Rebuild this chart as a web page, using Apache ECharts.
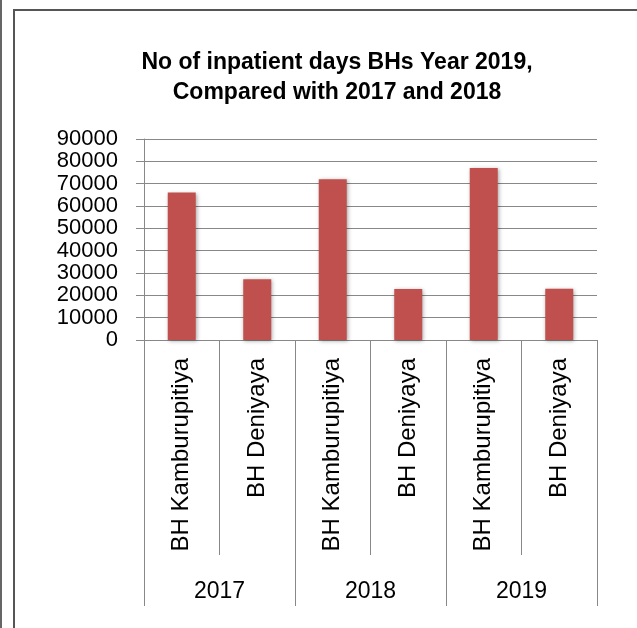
<!DOCTYPE html>
<html>
<head>
    <meta charset="UTF-8">
    <script src="https://cdn.jsdelivr.net/npm/echarts@6/dist/echarts.min.js"></script>
    <style>
        html, body { margin:0; padding:0; background:#fff; }
        #main { width:637px; height:628px; }
    </style>
</head>
<body>
    <div id="main"></div>
    <script>
        // data
        var hospitals = ['BH Kamburupitiya', 'BH Deniyaya', 'BH Kamburupitiya', 'BH Deniyaya', 'BH Kamburupitiya', 'BH Deniyaya'];
        var years = ['2017', '2018', '2019'];
        var inpatientDays = [66000, 27200, 72000, 22800, 77000, 23000];
        var yTicks = [0, 10000, 20000, 30000, 40000, 50000, 60000, 70000, 80000, 90000];

        var font = 'Liberation Sans, Arial, sans-serif';
        var chart = echarts.init(document.getElementById('main'));
        chart.setOption({
            animation: false,
            title: {
                text: 'No of inpatient days BHs Year 2019,\nCompared with 2017 and 2018',
                left: 332,
                top: 43,
                textAlign: 'center',
                textStyle: { fontFamily: font, fontSize: 23, fontWeight: 'bold', color: '#000', lineHeight: 30 }
            },
            graphic: [
                { type: 'rect', shape: { x: 14, y: 10, width: 700, height: 700 }, style: { fill: 'none', stroke: '#555', lineWidth: 2 } },
                { type: 'line', shape: { x1: 1, y1: 0, x2: 1, y2: 628 }, style: { stroke: '#666', lineWidth: 2 } }
            ],
            grid: { left: 144, right: 40, top: 139, bottom: 288, containLabel: false },
            xAxis: [{
                type: 'category',
                data: hospitals,
                position: 'bottom',
                axisLine: { show: true, lineStyle: { color: '#888', width: 1 } },
                axisTick: { show: true, interval: 0, length: 215, lineStyle: { color: '#888' } },
                axisLabel: { interval: 0, rotate: 90, margin: 18, fontFamily: font, fontSize: 24, color: '#000' }
            }, {
                type: 'category',
                data: years,
                position: 'bottom',
                axisLine: { show: false },
                axisTick: { show: true, interval: 0, length: 266, lineStyle: { color: '#888' } },
                axisLabel: { interval: 0, margin: 240, fontFamily: font, fontSize: 23, color: '#000' }
            }],
            yAxis: {
                type: 'value',
                min: 0,
                max: 90000,
                interval: 10000,
                axisLine: { show: true, lineStyle: { color: '#888' } },
                axisTick: { show: true, length: 8, lineStyle: { color: '#888' } },
                splitLine: { lineStyle: { color: '#888', width: 1 } },
                axisLabel: {
                    customValues: yTicks,
                    margin: 26, fontFamily: font, fontSize: 22, lineHeight: 18, color: '#000',
                    showMinLabel: true, showMaxLabel: true, hideOverlap: false,
                    formatter: function (v) { return String(v); }
                }
            },
            series: [{
                type: 'bar',
                xAxisIndex: 0,
                data: inpatientDays,
                barWidth: 28,
                itemStyle: {
                    color: '#C0504D',
                    shadowBlur: 4,
                    shadowColor: 'rgba(0,0,0,0.35)',
                    shadowOffsetX: 1,
                    shadowOffsetY: 1
                }
            }]
        });
    </script>
</body>
</html>
